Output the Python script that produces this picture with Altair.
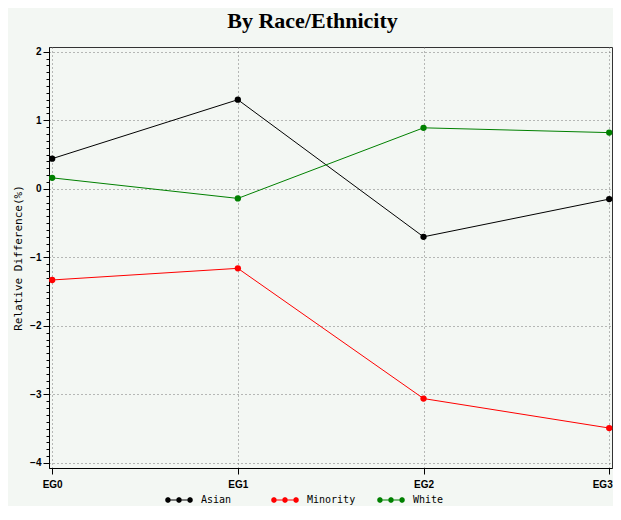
import math
import altair as alt
import pandas as pd

groups = ["EG0", "EG1", "EG2", "EG3"]
series = ["Asian", "Minority", "White"]
asian = [0.44, 1.30, -0.70, -0.15]
minority = [-1.33, -1.16, -3.06, -3.49]
white = [0.16, -0.14, 0.89, 0.82]
colors = ["#000000", "#ff0000", "#008000"]
y_ticks = [round(-4 + 0.1 * i, 1) for i in range(61)]

rows = []
for name, vals in zip(series, [asian, minority, white]):
    for i, (g, v) in enumerate(zip(groups, vals)):
        rows.append({"pos": i, "group": g, "series": name, "value": v})
df = pd.DataFrame(rows)

is_int = "abs(datum.value - round(datum.value)) < 0.001"
label_map = "[" + ",".join("'%s'" % g for g in groups) + "][datum.value]"

x_enc = alt.X(
    "pos:Q",
    scale=alt.Scale(domain=[-0.017, 3.015], nice=False, zero=False),
    axis=alt.Axis(
        values=list(range(len(groups))),
        labelExpr=label_map,
        title=None,
        tickSize=6,
        labelPadding=5,
        labelFont="Liberation Sans",
        labelFontWeight="bold",
        labelFontSize=10,
        labelColor="black",
        labelAlign={"condition": {"test": "datum.value == 3", "value": "right"}, "value": "center"},
        labelOffset={"condition": {"test": "datum.value == 3", "value": 3}, "value": 0},
        grid=True,
        gridDash=[1, 3],
        gridColor="#777777",
        domainColor="black",
        tickColor="black",
        labelOverlap=False,
    ),
)

y_enc = alt.Y(
    "value:Q",
    scale=alt.Scale(domain=[-4.073, 2.069], nice=False, zero=False),
    axis=alt.Axis(
        values=y_ticks,
        labelExpr=is_int + " ? format(datum.value, 'd') : ''",
        title="Relative Difference(%)",
        titleFont="DejaVu Sans Mono",
        titleFontSize=11,
        titleFontWeight="normal",
        titleColor="black",
        titlePadding=6,
        tickSize={"condition": {"test": is_int, "value": 6}, "value": 3},
        labelPadding=2,
        labelFont="Liberation Sans",
        labelFontWeight="bold",
        labelFontSize=10,
        labelColor="black",
        grid=True,
        gridDash=[1, 3],
        gridColor="#777777",
        gridOpacity={"condition": {"test": is_int, "value": 1}, "value": 0},
        domainColor="black",
        tickColor="black",
        labelOverlap=False,
        labelBound=False,
    ),
)


# legend glyph: thin bar with three small polygon dots
def dot_path(cx, r=0.2, n=10):
    pts = [(cx + r * math.cos(2 * math.pi * k / n), r * math.sin(2 * math.pi * k / n)) for k in range(n)]
    return "M" + "L".join("%.3f,%.3f" % p for p in pts) + "Z"


legend_path = (
    "M-0.79,-0.035L0.79,-0.035L0.79,0.035L-0.79,0.035Z"
    + dot_path(-0.79) + dot_path(0.0) + dot_path(0.79)
)

legend = alt.Legend(
    title=None,
    orient="none",
    legendX=116,
    legendY=439,
    direction="horizontal",
    columns=3,
    gridAlign="all",
    columnPadding=21,
    labelOffset=8,
    symbolType=legend_path,
    symbolSize=784,
    symbolStrokeWidth=0,
    labelFont="DejaVu Sans Mono",
    labelFontSize=10,
    labelColor="black",
)

base = alt.Chart(df)

lines = base.mark_line(strokeWidth=1).encode(
    x=x_enc,
    y=y_enc,
    stroke=alt.Stroke("series:N", scale=alt.Scale(domain=series, range=colors), legend=legend),
    detail="series:N",
)

points = base.mark_point(filled=True, size=40, opacity=1).encode(
    x=x_enc,
    y=y_enc,
    color=alt.Color("series:N", scale=alt.Scale(domain=series, range=colors), legend=legend),
)

chart = (
    alt.layer(lines, points)
    .properties(
        width=563,
        height=421,
        autosize=alt.AutoSizeParams(type="none"),
        padding={"left": 41, "top": 39, "right": 1, "bottom": 38},
        background="#f3f7f3",
        title=alt.TitleParams(
            "By Race/Ethnicity",
            font="Liberation Serif",
            fontSize=22,
            fontWeight="bold",
            color="black",
            anchor="middle",
            dx=-18,
            offset=14,
        ),
    )
    .configure_view(stroke="#333333", strokeWidth=1, fill="#f3f7f3")
)

chart.save("out.html", embed_options={"renderer": "svg", "actions": False})
